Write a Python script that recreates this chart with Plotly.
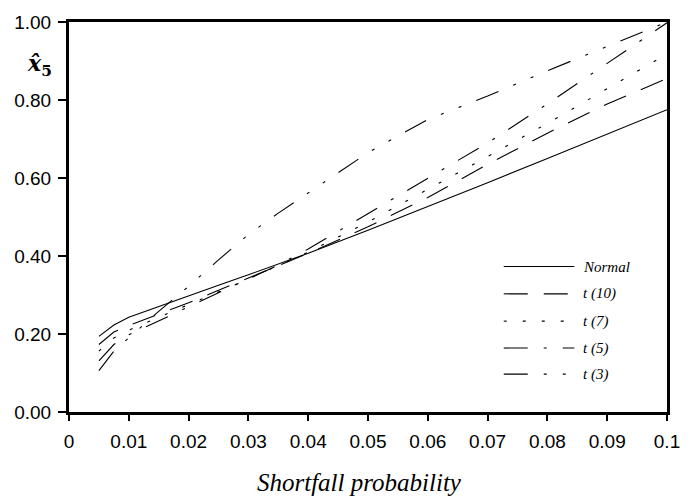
import plotly.graph_objects as go

# ---- data ----
shortfall_prob = [0.005, 0.0075, 0.01, 0.0125, 0.015, 0.0175, 0.02, 0.025, 0.03,
                  0.035, 0.04, 0.05, 0.06, 0.07, 0.08, 0.09, 0.1]
normal = [0.194, 0.223, 0.243, 0.257, 0.270, 0.284, 0.297, 0.325, 0.352,
          0.380, 0.407, 0.466, 0.526, 0.588, 0.650, 0.712, 0.775]
t10 = [0.173, 0.205, 0.222, 0.236, 0.250, 0.264, 0.280, 0.312, 0.343,
       0.374, 0.407, 0.475, 0.550, 0.635, 0.715, 0.790, 0.855]
t7 = [0.156, 0.190, 0.210, 0.226, 0.242, 0.258, 0.275, 0.308, 0.341,
      0.375, 0.410, 0.487, 0.570, 0.655, 0.740, 0.830, 0.918]
t5 = [0.131, 0.173, 0.198, 0.215, 0.232, 0.251, 0.270, 0.305, 0.340,
      0.377, 0.418, 0.508, 0.600, 0.690, 0.790, 0.895, 0.998]
t3 = [0.106, 0.156, 0.190, 0.225, 0.258, 0.290, 0.322, 0.390, 0.455,
      0.510, 0.562, 0.665, 0.750, 0.810, 0.875, 0.938, 1.000]

series_names = ["Normal", "t (10)", "t (7)", "t (5)", "t (3)"]
series_values = [normal, t10, t7, t5, t3]
series_dash = ["solid", "24px,16px", "3px,16px", "24px,16px,3px,16px",
               "24px,16px,3px,16px,3px,16px"]

x_tickvals = [0, 0.01, 0.02, 0.03, 0.04, 0.05, 0.06, 0.07, 0.08, 0.09, 0.1]
x_ticktext = ["0", "0.01", "0.02", "0.03", "0.04", "0.05", "0.06", "0.07",
              "0.08", "0.09", "0.1"]
y_tickvals = [0, 0.2, 0.4, 0.6, 0.8, 1.0]

fig = go.Figure()
for name, vals, dash in zip(series_names, series_values, series_dash):
    fig.add_trace(go.Scatter(x=shortfall_prob, y=vals, mode="lines", name=name,
                             line=dict(color="black", width=1.1, dash=dash),
                             showlegend=False))

# custom legend (sample line + italic label), bottom-right inside plot
leg_x0, leg_x1, leg_tx = 0.727, 0.845, 0.856
leg_rows = [0.373, 0.303, 0.233, 0.164, 0.097]
for name, dash, yy in zip(series_names, series_dash, leg_rows):
    fig.add_shape(type="line", xref="paper", yref="paper",
                  x0=leg_x0, x1=leg_x1, y0=yy, y1=yy,
                  line=dict(color="black", width=1.1, dash=dash))
    fig.add_annotation(xref="paper", yref="paper", x=leg_tx, y=yy,
                       text="<i>%s</i>" % name, showarrow=False,
                       xanchor="left", yanchor="middle",
                       font=dict(family="Liberation Serif", size=15, color="black"))

# y-axis title (x-hat sub 5)
fig.add_annotation(xref="paper", yref="paper", x=-0.05, y=0.89,
                   text="<b><i>x̂</i></b><sub><b>5</b></sub>", showarrow=False,
                   xanchor="center", yanchor="middle",
                   font=dict(family="DejaVu Serif", size=22, color="black"))

# x-axis title
fig.add_annotation(xref="paper", yref="paper", x=0.485, y=-0.18,
                   text="<i>Shortfall probability</i>", showarrow=False,
                   xanchor="center", yanchor="middle",
                   font=dict(family="Liberation Serif", size=25, color="black"))

axis_common = dict(showgrid=False, zeroline=False, showline=True, linecolor="black",
                   linewidth=3, mirror=True, ticks="outside", tickcolor="black",
                   tickwidth=2, tickfont=dict(family="Liberation Sans", size=19,
                                              color="black"))
fig.update_xaxes(range=[0, 0.1], tickvals=x_tickvals, ticktext=x_ticktext,
                 ticklen=6, ticklabelstandoff=4, **axis_common)
fig.update_yaxes(range=[0, 1.0], tickvals=y_tickvals, tickformat=".2f",
                 ticklen=8, ticklabelstandoff=3, **axis_common)

fig.update_layout(width=692, height=501, plot_bgcolor="white", paper_bgcolor="white",
                  margin=dict(l=69, r=24, t=16, b=89), showlegend=False)

fig.write_html("out.html")
